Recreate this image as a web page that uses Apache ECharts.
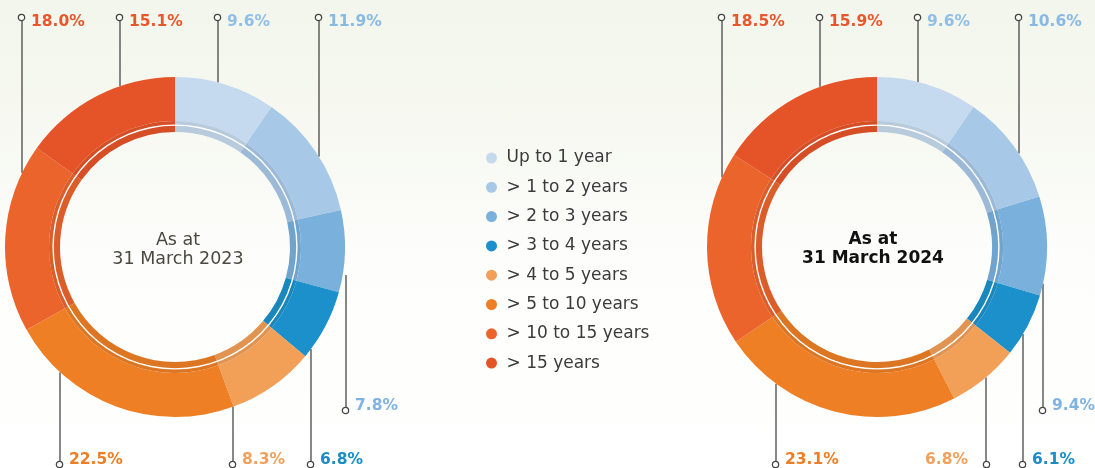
<!DOCTYPE html>
<html>
<head>
<meta charset="utf-8">
<script src="https://cdn.jsdelivr.net/npm/echarts@6/dist/echarts.min.js"></script>
<style>
  html, body { margin: 0; padding: 0; }
  #main {
    width: 1095px; height: 468px;
    background: linear-gradient(to bottom, #f3f6ec 0%, #f7f9f2 30%, #fdfdfb 55%, #ffffff 100%);
  }
</style>
</head>
<body>
<div id="main"></div>
<script>
const categories = ['Up to 1 year', '> 1 to 2 years', '> 2 to 3 years', '> 3 to 4 years',
  '> 4 to 5 years', '> 5 to 10 years', '> 10 to 15 years', '> 15 years'];
const values2023 = [9.6, 11.9, 7.8, 6.8, 8.3, 22.5, 18.0, 15.1];
const values2024 = [9.6, 10.6, 9.4, 6.1, 6.8, 23.1, 18.5, 15.9];
const titles = ['As at\n31 March 2023', 'As at\n31 March 2024'];

const sliceColors = ['#c5daee', '#a8c8e7', '#7ab0dc', '#1b90ca', '#f29f58', '#ee7f25', '#eb642c', '#e55428'];
const textColors = ['#90bee8', '#88b9e4', '#80b3e0', '#1a8dc8', '#f2a05c', '#ee7e26', '#e8572b', '#e8572b'];

// where each leader line ends (dot x, dot y, -1 = text on the left of the dot)
const anchors2023 = [[218, 18], [319, 18], [346, 410], [311, 464], [233, 464], [60, 464], [22, 18], [120, 18]];
const anchors2024 = [[918, 18], [1019, 18], [1043, 410], [1023, 464], [986, 464, -1], [776, 464], [722, 18], [820, 18]];

const CY = 247, R = 170, R_IN = 126, R_BAND = 115;

function shade(hex, f) {
  let n = parseInt(hex.slice(1), 16);
  let r = Math.round(((n >> 16) & 255) * f), g = Math.round(((n >> 8) & 255) * f), b = Math.round((n & 255) * f);
  return 'rgb(' + r + ',' + g + ',' + b + ')';
}

function donut(values, cx, anchors) {
  let main = {
    type: 'pie',
    center: [cx, CY],
    radius: [R_IN, R],
    startAngle: 90,
    clockwise: true,
    avoidLabelOverlap: false,
    silent: true,
    data: values.map(function (v, i) {
      return {name: categories[i], value: v, itemStyle: {color: sliceColors[i]}, label: {color: textColors[i]}};
    }),
    label: {
      show: true,
      position: 'outside',
      formatter: function (p) {
        let a = anchors[p.dataIndex];
        let dot = a[1] < CY ? '{dt|}' : '{db|}';
        let txt = '{v|' + values[p.dataIndex].toFixed(1) + '%}';
        return a[2] === -1 ? txt + '{spr|}' + dot : dot + '{sp|}' + txt;
      },
      rich: {
        v: {fontFamily: 'DejaVu Sans', fontWeight: 'bold', fontSize: 15.5, lineHeight: 14},
        sp: {width: 7},
        spr: {width: 16},
        dt: {width: 5, height: 5, borderRadius: 3, borderWidth: 1.3, borderColor: '#444',
          backgroundColor: '#fbfcf8', verticalAlign: 'top'},
        db: {width: 5, height: 5, borderRadius: 3, borderWidth: 1.3, borderColor: '#444',
          backgroundColor: '#ffffff', verticalAlign: 'bottom'}
      }
    },
    labelLine: {show: true, length: 5, length2: 5, lineStyle: {color: '#555', width: 1.4}},
    labelLayout: function (p) {
      let a = anchors[p.dataIndex];
      let dotX = a[0], dotY = a[1];
      let top = dotY < CY;
      let dx = dotX - cx;
      let dy = Math.max(Math.sqrt(Math.max(R * R - dx * dx, 0)), 28);
      let ringY = top ? CY - dy : CY + dy;
      let right = a[2] === -1;
      return {
        x: right ? dotX + 3 : dotX - 3,
        y: top ? dotY + 4 : dotY - 4,
        align: right ? 'right' : 'left',
        verticalAlign: 'middle',
        labelLinePoints: [[dotX, ringY], [dotX, (ringY + dotY) / 2], [dotX, dotY]]
      };
    }
  };
  let band = {
    type: 'pie',
    center: [cx, CY],
    radius: [R_BAND, R_IN],
    startAngle: 90,
    clockwise: true,
    silent: true,
    label: {show: false},
    labelLine: {show: false},
    data: values.map(function (v, i) {
      return {value: v, itemStyle: {color: shade(sliceColors[i], 0.93)}};
    })
  };
  let ring = {
    type: 'pie',
    center: [cx, CY],
    radius: [121.2, 122.6],
    silent: true,
    label: {show: false},
    labelLine: {show: false},
    data: [{value: 1, itemStyle: {color: '#ffffff'}}]
  };
  return [main, band, ring];
}

const chart = echarts.init(document.getElementById('main'), null, {renderer: 'canvas'});

chart.setOption({
  animation: false,
  legend: {
    data: categories,
    orient: 'vertical',
    left: 481,
    top: 144,
    icon: 'circle',
    itemWidth: 20,
    itemHeight: 11,
    itemGap: 11.3,
    selectedMode: false,
    textStyle: {fontFamily: 'DejaVu Sans', fontSize: 17, color: '#3b3b3b', lineHeight: 18}
  },
  graphic: [
    {type: 'text', x: 178, y: 249.5, silent: true,
      style: {text: titles[0], align: 'center', verticalAlign: 'middle', lineHeight: 19,
        fontFamily: 'DejaVu Sans', fontSize: 17.5, fill: '#4a4840'}},
    {type: 'text', x: 873, y: 249.5, silent: true,
      style: {text: titles[1], align: 'center', verticalAlign: 'middle', lineHeight: 19,
        fontFamily: 'DejaVu Sans', fontWeight: 'bold', fontSize: 17, fill: '#111111'}}
  ],
  series: donut(values2023, 175, anchors2023).concat(donut(values2024, 877, anchors2024))
});
</script>
</body>
</html>
